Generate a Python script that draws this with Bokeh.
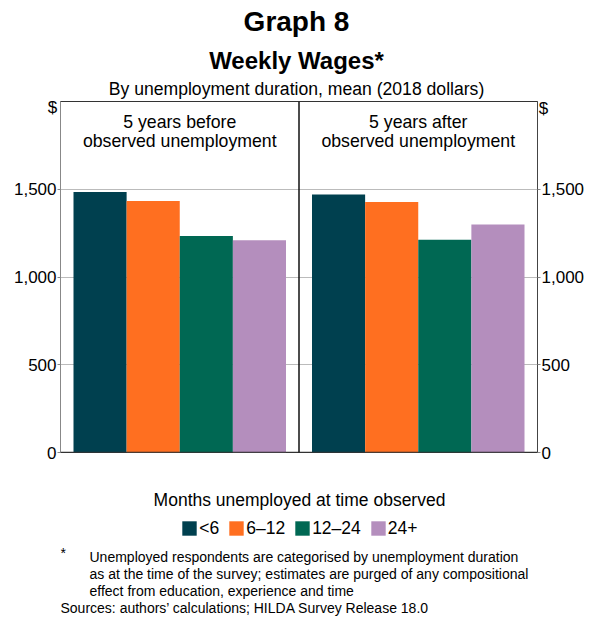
from bokeh.plotting import figure
from bokeh.layouts import column
from bokeh.models import (Label, Span, LinearAxis, FixedTicker, NumeralTickFormatter,
                          Range1d, Legend, LegendItem, ColumnDataSource)
from bokeh.embed import file_html
from bokeh.resources import INLINE

# ---------------- data ----------------
panel_titles = [["5 years before", "observed unemployment"],
                ["5 years after", "observed unemployment"]]
categories = ["<6", "6\u201312", "12\u201324", "24+"]
before = [1485, 1433, 1233, 1210]
after = [1470, 1427, 1212, 1299]
colors = ["#00404F", "#FF6F20", "#006853", "#B48EBD"]
y_ticks = [0, 500, 1000, 1500]
grid_ticks = [500, 1000, 1500]

FONT = "Liberation Sans"

# geometry (page px; bokeh page has no body margin)
FL, FR, FT, FB = 60, 537, 101, 452
W, H = 592, 620
H1 = 470            # height of the chart figure; notes figure fills the rest

p = figure(width=W, height=H1, x_range=Range1d(0, 2), y_range=Range1d(0, 2000),
           output_backend="svg", toolbar_location=None,
           x_axis_location=None, y_axis_location="left",
           min_border_left=FL, min_border_right=W - FR,
           min_border_top=FT, min_border_bottom=H1 - FB)
p.outline_line_color = "#333333"
p.outline_line_width = 1
p.xgrid.visible = False
p.ygrid.ticker = FixedTicker(ticks=grid_ticks)
p.ygrid.grid_line_color = "#BBBBBB"
p.ygrid.grid_line_width = 1

def style_axis(ax, color):
    ax.ticker = FixedTicker(ticks=y_ticks)
    ax.formatter = NumeralTickFormatter(format="0,0")
    ax.axis_line_color = color
    ax.major_tick_line_color = "#888888"
    ax.major_tick_out = 3
    ax.major_tick_in = 0
    ax.minor_tick_line_color = None
    ax.major_label_standoff = 1
    ax.major_label_text_font = FONT
    ax.major_label_text_font_size = "17px"
    ax.major_label_text_color = "#000000"

style_axis(p.yaxis[0], "#888888")
rax = LinearAxis()
style_axis(rax, "#444444")
p.add_layout(rax, "right")

# bars
pad = 13 / 238.5
bw = (1 - 2 * pad) / len(categories)
sources = []
for i, cat in enumerate(categories):
    src = ColumnDataSource(dict(
        x=[panel + pad + (i + 0.5) * bw for panel in range(2)],
        top=[before[i], after[i]]))
    sources.append(src)
    p.vbar(x="x", top="top", width=bw, bottom=0, source=src,
           fill_color=colors[i], line_color=None)

# zero line and divider
p.add_layout(Span(location=0, dimension="width", line_color="#333333", line_width=1.5))
p.add_layout(Span(location=1, dimension="height", line_color="#111111", line_width=1.5))

def lab(fig, text, px, py, size, align="center", bold=False, side="center", units="canvas"):
    fig.add_layout(Label(x=px, y=py, x_units=units, y_units=units,
                         text=text, text_font=FONT, text_font_size=size,
                         text_align=align, text_baseline="middle",
                         text_font_style="bold" if bold else "normal",
                         text_color="#000000"), side)

cx = 296
lab(p, "Graph 8", cx, 20.7, "28px", bold=True, side="above")
lab(p, "Weekly Wages*", cx, 60, "24px", bold=True, side="above")
lab(p, "By unemployment duration, mean (2018 dollars)", cx, 88.5, "17.6px", side="above")
lab(p, "$", 543, 108, "17px", side="above")
lab(p, "$", 52, 107, "17px", side="left")

for k, lines in enumerate(panel_titles):
    centre = FL + (FR - FL) * (k + 0.5) / 2
    lab(p, lines[0], centre, 121.5, "17.7px")
    lab(p, lines[1], centre, 140, "17.7px")

# ---------------- notes figure (legend + footnotes) ----------------
# its frame is aligned with the chart frame (x 60..537), so data x = page x
n = figure(width=W, height=H - H1, x_range=Range1d(FL, FR), y_range=Range1d(H, H1),
           output_backend="svg", toolbar_location=None,
           x_axis_location=None, y_axis_location=None,
           min_border_left=FL, min_border_right=W - FR, min_border_top=0, min_border_bottom=0)
n.outline_line_color = None
n.xgrid.visible = False
n.ygrid.visible = False

# legend swatches: hidden copies of the bar series
proxies = []
for i, cat in enumerate(categories):
    r = n.vbar(x="x", top="top", width=bw, bottom=0, source=sources[i],
               fill_color=colors[i], line_color=None, visible=False)
    proxies.append(r)

LEG_H = 20
legend = Legend(items=[LegendItem(label=c, renderers=[r]) for c, r in zip(categories, proxies)],
                orientation="horizontal", location=(180.2 - FL, (H - 518.5) - LEG_H),
                glyph_width=18, glyph_height=18, label_standoff=1, spacing=8,
                padding=0, margin=0, border_line_color=None, background_fill_alpha=0,
                inactive_fill_alpha=0,
                label_text_font=FONT, label_text_font_size="17.5px", label_height=15,
                label_text_color="#000000")
n.add_layout(legend)

lab(n, "Months unemployed at time observed", 299, 499, "17.5px", units="data")
lab(n, "*", 60, 552, "14px", align="left", units="data")
lab(n, "Unemployed respondents are categorised by unemployment duration", 89, 556, "14px", align="left", units="data")
lab(n, "as at the time of the survey; estimates are purged of any compositional", 89, 573, "14px", align="left", units="data")
lab(n, "effect from education, experience and time", 89, 590, "14px", align="left", units="data")
lab(n, "Sources: authors\u2019 calculations; HILDA Survey Release 18.0", 60, 607, "14px", align="left", units="data")

layout = column(p, n, spacing=0)
open("out.html", "w").write(file_html(layout, INLINE))
